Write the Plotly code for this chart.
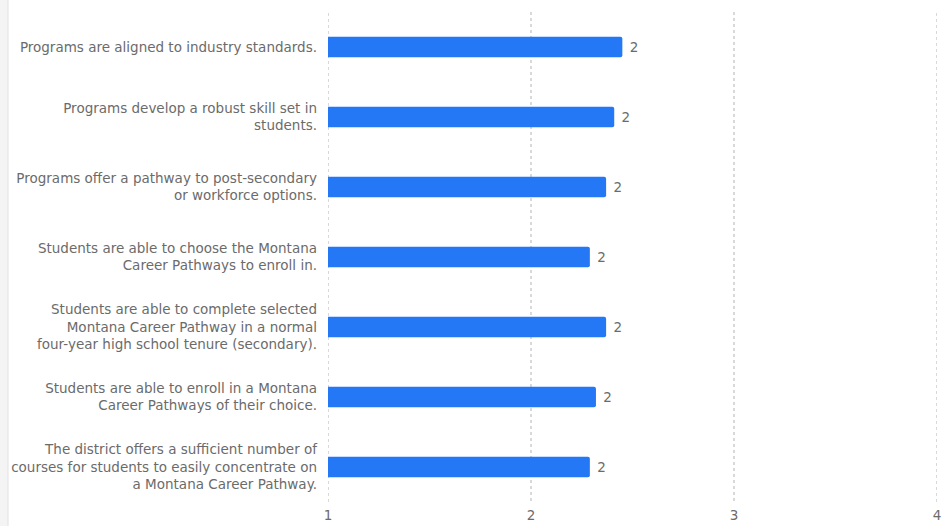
import plotly.graph_objects as go

# Survey statements (top to bottom) and their mean ratings
statements = [
    "Programs are aligned to industry standards.",
    "Programs develop a robust skill set in<br>students.",
    "Programs offer a pathway to post-secondary<br>or workforce options.",
    "Students are able to choose the Montana<br>Career Pathways to enroll in.",
    "Students are able to complete selected<br>Montana Career Pathway in a normal<br>four-year high school tenure (secondary).",
    "Students are able to enroll in a Montana<br>Career Pathways of their choice.",
    "The district offers a sufficient number of<br>courses for students to easily concentrate on<br>a Montana Career Pathway.",
]
mean_scores = [2.45, 2.41, 2.37, 2.29, 2.37, 2.32, 2.29]
x_ticks = [1, 2, 3, 4]

text_color = "#6b6b6b"
grid_color = "#d9d9d9"
font_family = "DejaVu Sans, sans-serif"
font_size = 13.5

fig = go.Figure(
    go.Bar(
        x=mean_scores,
        y=statements,
        orientation="h",
        marker=dict(color="#2478f6", line=dict(width=0)),
        width=0.29,
        text=mean_scores,
        texttemplate="\u00a0%{x:.0f}",
        textposition="outside",
        textfont=dict(size=font_size, color=text_color, family=font_family),
        cliponaxis=False,
        hoverinfo="x+y",
    )
)

# dotted guides on the two ends of the value axis
edge_lines = [
    dict(type="line", xref="x", yref="paper", x0=v, x1=v, y0=0, y1=1,
         line=dict(color=grid_color, width=2, dash="dot"), layer="below")
    for v in (x_ticks[0], x_ticks[-1])
]

fig.update_layout(
    width=951,
    height=526,
    margin=dict(l=328, r=14, t=12, b=24, autoexpand=False),
    paper_bgcolor="white",
    plot_bgcolor="white",
    showlegend=False,
    barcornerradius=2,
    font=dict(family=font_family, size=font_size, color=text_color),
    xaxis=dict(
        range=[1, 4],
        tickvals=x_ticks,
        ticktext=[str(v) for v in x_ticks],
        showgrid=True,
        gridcolor=grid_color,
        griddash="dot",
        gridwidth=2,
        zeroline=False,
        showline=False,
        ticks="",
        automargin=False,
        ticklabelstandoff=3,
        tickfont=dict(size=font_size, color=text_color),
    ),
    yaxis=dict(
        categoryorder="array",
        categoryarray=statements[::-1],
        showgrid=False,
        zeroline=False,
        showline=False,
        ticks="",
        automargin=False,
        ticklabelstandoff=10,
        tickfont=dict(size=font_size, color=text_color),
    ),
    shapes=edge_lines + [
        # pale panel strip and its border on the far left
        dict(type="rect", xref="paper", yref="paper",
             x0=-328 / 609, x1=-320 / 609, y0=-1, y1=2,
             fillcolor="#f4f4f4", line=dict(width=0), layer="below"),
        dict(type="line", xref="paper", yref="paper",
             x0=-320 / 609, x1=-320 / 609, y0=-1, y1=2,
             line=dict(color="#e2e2e2", width=1)),
    ],
)

fig.write_html("out.html")
